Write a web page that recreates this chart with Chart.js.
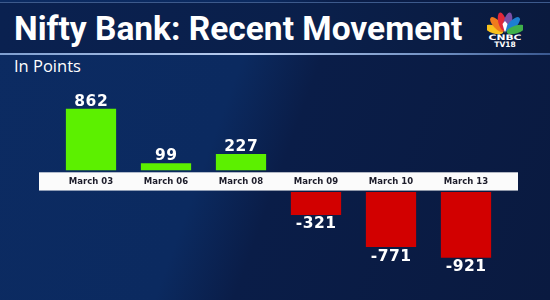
<!DOCTYPE html>
<html>
<head>
<meta charset="utf-8">
<script src="https://cdn.jsdelivr.net/npm/chart.js@4"></script>
<style>
  html, body { margin: 0; padding: 0; }
  body {
    width: 550px; height: 300px; position: relative; overflow: hidden;
    background: linear-gradient(110deg, #0c2b62 0%, #0b2a60 40%, #0a1d48 52%, #0a1a40 100%);
    font-family: Roboto, sans-serif;
  }
  #band {
    position: absolute; left: 0; top: 2px; width: 550px; height: 50px;
    background: linear-gradient(90deg, #0a2150 0%, #0a1f4a 60%, #0a1a3e 100%);
    border-top: 1px solid #3d5a8c;
  }
  #band:after {
    content: ''; position: absolute; left: 0; right: 0; bottom: -2px; height: 2px;
    background: linear-gradient(90deg, #7f9fd0 0%, #b9cdef 45%, #6f8fc2 80%, #3a5890 100%);
  }
  #title {
    position: absolute; left: 14px; top: 12px; color: #fff;
    font: 700 33.5px/34px Roboto, sans-serif; white-space: nowrap;
  }
  #sub {
    position: absolute; left: 14px; top: 58px; color: #fff;
    font: 400 16.5px/16.5px "Open Sans", sans-serif;
  }
  #logo { position: absolute; left: 487px; top: 9px; }
  #chart { position: absolute; left: 0; top: 0; }
</style>
</head>
<body>
<div id="band"></div>
<div id="title">Nifty Bank: Recent Movement</div>
<div id="sub">In Points</div>
<svg id="logo" width="36" height="40" viewBox="0 0 36 40">
  <g transform="translate(18,24)">
    <ellipse cx="0" cy="-11.5" rx="4" ry="9.5" fill="#f8c21c" transform="rotate(-72)"/>
    <ellipse cx="0" cy="-11.5" rx="4" ry="9.5" fill="#f07b1d" transform="rotate(-43)"/>
    <ellipse cx="0" cy="-11.5" rx="4" ry="9.5" fill="#e0283a" transform="rotate(-14)"/>
    <ellipse cx="0" cy="-11.5" rx="4" ry="9.5" fill="#7b4fa6" transform="rotate(14)"/>
    <ellipse cx="0" cy="-11.5" rx="4" ry="9.5" fill="#1d7fd0" transform="rotate(43)"/>
    <ellipse cx="0" cy="-11.5" rx="4" ry="9.5" fill="#3fb04a" transform="rotate(72)"/>
    <path d="M0,0 L-2.5,-9 L0,-12 L2.5,-9 Z" fill="#fff"/>
  </g>
  <text x="18" y="30.5" text-anchor="middle" fill="#fff" font-family="DejaVu Sans" font-weight="700" font-size="7.5" textLength="33" lengthAdjust="spacingAndGlyphs">CNBC</text>
  <text x="18" y="37.5" text-anchor="middle" fill="#fff" font-family="DejaVu Sans" font-weight="700" font-size="7.5">TV18</text>
</svg>
<canvas id="chart" width="550" height="300"></canvas>
<script>
const categories = ['March 03', 'March 06', 'March 08', 'March 09', 'March 10', 'March 13'];
const changes = [862, 99, 227, -321, -771, -921];

// room left for the white date strip, in points
const GAP = 305;

const bars = changes.map(v => v >= 0 ? [0, v] : [-GAP, v - GAP]);
const colors = changes.map(v => v >= 0 ? '#5cf000' : '#d20000');

// white strip behind the dates
const stripPlugin = {
    id: 'strip',
    beforeDraw(chart) {
        const { ctx, chartArea } = chart;
        const y = chart.scales.y;
        const top = y.getPixelForValue(0) + 2;
        const bottom = y.getPixelForValue(-GAP) - 1.5;
        ctx.save();
        ctx.fillStyle = '#fbfbfb';
        ctx.fillRect(chartArea.left - 14.5, top, chartArea.width + 29, bottom - top);
        ctx.restore();
    }
};

// numbers above / below each bar
const valuePlugin = {
    id: 'values',
    afterDatasetsDraw(chart) {
        const ctx = chart.ctx;
        const meta = chart.getDatasetMeta(0);
        ctx.save();
        ctx.fillStyle = '#ffffff';
        ctx.font = 'bold 15.5px "DejaVu Sans"';
        ctx.letterSpacing = '0.5px';
        ctx.textAlign = 'center';
        ctx.textBaseline = 'alphabetic';
        meta.data.forEach((bar, i) => {
            const v = changes[i];
            const x = bar.x + 0.25;
            if (v >= 0) {
                ctx.fillText(String(v), x, Math.min(bar.y, bar.base) - 3);
            } else {
                ctx.fillText(String(v), x, Math.max(bar.y, bar.base) + 13.5);
            }
        });
        ctx.restore();
    }
};

new Chart(document.getElementById('chart'), {
    type: 'bar',
    data: {
        labels: categories,
        datasets: [{
            data: bars,
            backgroundColor: colors,
            borderWidth: 0,
            barPercentage: 0.67,
            categoryPercentage: 1.0
        }]
    },
    options: {
        responsive: false,
        animation: false,
        layout: { padding: { top: 99, bottom: 37, left: 53.5, right: 46.5 } },
        scales: {
            y: {
                display: false,
                min: -1300,
                max: 1000
            },
            x: {
                position: { y: 0 },
                grid: { display: false, drawTicks: false, tickLength: 0 },
                border: { display: false },
                ticks: {
                    color: '#1c1c2a',
                    padding: 6,
                    font: { family: 'DejaVu Sans', weight: 'bold', size: 8.5 }
                }
            }
        },
        plugins: {
            legend: { display: false },
            tooltip: { enabled: false }
        }
    },
    plugins: [stripPlugin, valuePlugin]
});
</script>
</body>
</html>
